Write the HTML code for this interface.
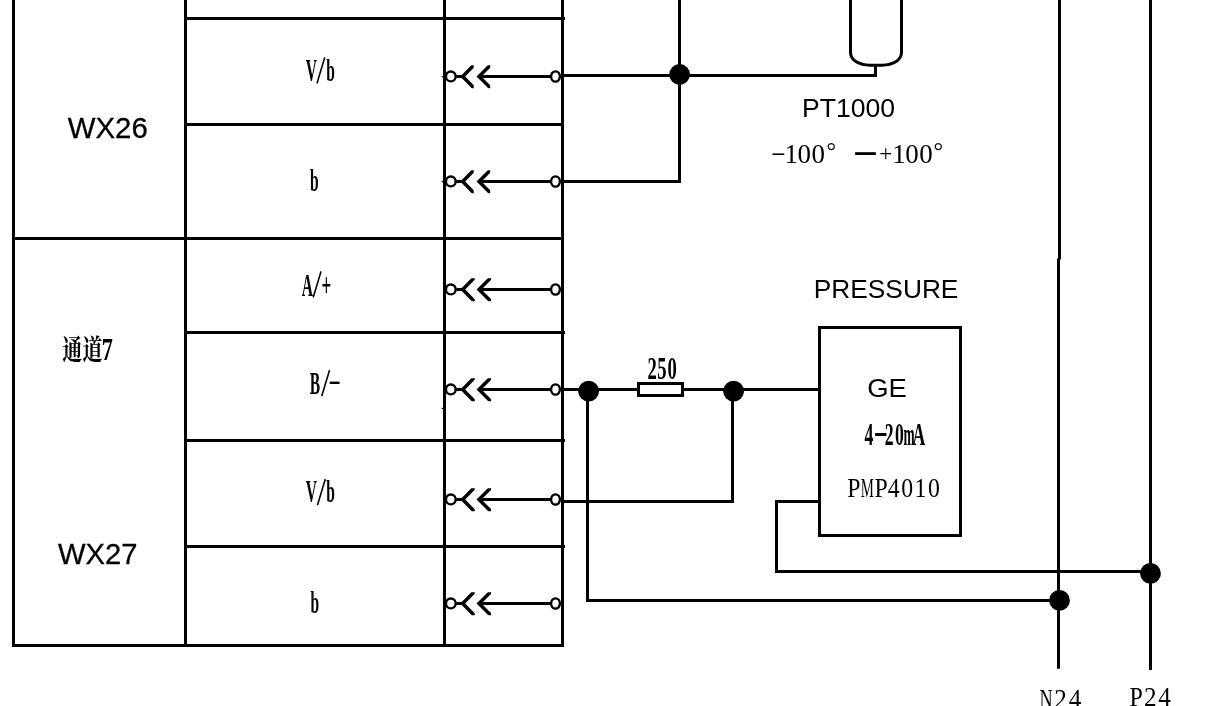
<!DOCTYPE html>
<html lang="zh"><head><meta charset="utf-8"><title>WX26 / WX27 wiring diagram</title>
<style>html,body{margin:0;padding:0;background:#fff}body{width:1218px;height:706px;overflow:hidden}svg{display:block;stroke-width:3}svg{filter:grayscale(1)}.l{stroke:#000;fill:none;stroke-linecap:butt;stroke-linejoin:miter}.sans{font-family:"Liberation Sans",sans-serif;fill:#000}.hv{stroke:#000;stroke-width:.3}.serif{font-family:"Liberation Serif",serif;fill:#000}.cn{font-family:"Liberation Serif","Noto Serif CJK SC",serif;fill:#000;font-weight:bold}.sb{font-family:"Liberation Serif",serif;font-weight:bold;fill:#000}</style></head><body>
<svg width="1218" height="706" viewBox="0 0 1218 706">
<rect x="0" y="0" width="1218" height="706" fill="#fff"/>
<g class="l">
<line x1="13.5" y1="-2" x2="13.5" y2="647"/>
<line x1="185.5" y1="-2" x2="185.5" y2="647"/>
<line x1="444.5" y1="-2" x2="444.5" y2="647"/>
<line x1="562.5" y1="-2" x2="562.5" y2="647"/>
<line x1="185.5" y1="18.5" x2="565" y2="18.5"/>
<line x1="185.5" y1="124.5" x2="564" y2="124.5"/>
<line x1="12" y1="238.5" x2="564" y2="238.5"/>
<line x1="185.5" y1="332.5" x2="565" y2="332.5"/>
<line x1="185.5" y1="440.5" x2="565" y2="440.5"/>
<line x1="185.5" y1="546.5" x2="565" y2="546.5"/>
<line x1="12" y1="645.5" x2="564" y2="645.5"/>
</g>
<rect x="441.6" y="407.8" width="1.6" height="1.2" fill="#000"/>
<defs><clipPath id="k1"><rect x="8" y="-11.3" width="14.9" height="23.1"/></clipPath><clipPath id="k2"><rect x="25" y="-11.3" width="14.4" height="23.1"/></clipPath><clipPath id="k3"><rect x="8" y="-11.3" width="16" height="23.1"/></clipPath><clipPath id="k4"><rect x="25" y="-11.3" width="15.3" height="23.1"/></clipPath></defs>
<g transform="translate(450.8,76.5)">
<path d="M-9.6,0.2 L-7,-1.2 V1.6 Z" fill="#000"/>
<ellipse class="l" cx="0" cy="-0.1" rx="4.85" ry="4.95" stroke-width="2.4" fill="#fff"/><line class="l" x1="5.5" y1="0" x2="13" y2="0"/><polyline class="l" clip-path="url(#k1)" points="25.6,-14 11.9,0 25.6,14" stroke-width="3.5"/><polyline class="l" clip-path="url(#k2)" points="42.2,-14 28.2,0 42.2,14" stroke-width="3.5"/><line class="l" x1="28.5" y1="0" x2="100" y2="0"/><ellipse class="l" cx="104.7" cy="0" rx="4.4" ry="5.15" stroke-width="2.35" fill="#fff"/></g>
<g transform="translate(450.8,181.5)">
<path d="M-9.6,0.2 L-7,-1.2 V1.6 Z" fill="#000"/>
<ellipse class="l" cx="0" cy="-0.1" rx="4.85" ry="4.95" stroke-width="2.4" fill="#fff"/><line class="l" x1="5.5" y1="0" x2="13" y2="0"/><polyline class="l" clip-path="url(#k1)" points="25.6,-14 11.9,0 25.6,14" stroke-width="3.5"/><polyline class="l" clip-path="url(#k2)" points="42.2,-14 28.2,0 42.2,14" stroke-width="3.5"/><line class="l" x1="28.5" y1="0" x2="100" y2="0"/><ellipse class="l" cx="104.7" cy="0" rx="4.4" ry="5.15" stroke-width="2.35" fill="#fff"/></g>
<g transform="translate(450.8,289.5)">
<ellipse class="l" cx="0" cy="-0.1" rx="4.85" ry="4.95" stroke-width="2.4" fill="#fff"/><line class="l" x1="5.5" y1="0" x2="13" y2="0"/><polyline class="l" clip-path="url(#k3)" points="25.6,-14 11.9,0 25.6,14" stroke-width="3.5"/><polyline class="l" clip-path="url(#k4)" points="42.2,-14 28.2,0 42.2,14" stroke-width="3.5"/><line class="l" x1="28.5" y1="0" x2="100" y2="0"/><ellipse class="l" cx="104.7" cy="0" rx="4.4" ry="5.15" stroke-width="2.35" fill="#fff"/></g>
<g transform="translate(450.8,389.5)">
<ellipse class="l" cx="0" cy="-0.1" rx="4.85" ry="4.95" stroke-width="2.4" fill="#fff"/><line class="l" x1="5.5" y1="0" x2="13" y2="0"/><polyline class="l" clip-path="url(#k3)" points="25.6,-14 11.9,0 25.6,14" stroke-width="3.5"/><polyline class="l" clip-path="url(#k4)" points="42.2,-14 28.2,0 42.2,14" stroke-width="3.5"/><line class="l" x1="28.5" y1="0" x2="100" y2="0"/><ellipse class="l" cx="104.7" cy="0" rx="4.4" ry="5.15" stroke-width="2.35" fill="#fff"/></g>
<g transform="translate(450.8,499.5)">
<ellipse class="l" cx="0" cy="-0.1" rx="4.85" ry="4.95" stroke-width="2.4" fill="#fff"/><line class="l" x1="5.5" y1="0" x2="13" y2="0"/><polyline class="l" clip-path="url(#k3)" points="25.6,-14 11.9,0 25.6,14" stroke-width="3.5"/><polyline class="l" clip-path="url(#k4)" points="42.2,-14 28.2,0 42.2,14" stroke-width="3.5"/><line class="l" x1="28.5" y1="0" x2="100" y2="0"/><ellipse class="l" cx="104.7" cy="0" rx="4.4" ry="5.15" stroke-width="2.35" fill="#fff"/></g>
<g transform="translate(450.8,603.5)">
<ellipse class="l" cx="0" cy="-0.1" rx="4.85" ry="4.95" stroke-width="2.4" fill="#fff"/><line class="l" x1="5.5" y1="0" x2="13" y2="0"/><polyline class="l" clip-path="url(#k3)" points="25.6,-14 11.9,0 25.6,14" stroke-width="3.5"/><polyline class="l" clip-path="url(#k4)" points="42.2,-14 28.2,0 42.2,14" stroke-width="3.5"/><line class="l" x1="28.5" y1="0" x2="100" y2="0"/><ellipse class="l" cx="104.7" cy="0" rx="4.4" ry="5.15" stroke-width="2.35" fill="#fff"/></g>
<g class="l">
<line x1="564" y1="75.5" x2="877" y2="75.5"/>
<line x1="875.5" y1="64" x2="875.5" y2="77"/>
<line x1="679.5" y1="-2" x2="679.5" y2="183"/>
<line x1="564" y1="181.5" x2="681" y2="181.5"/>
<path d="M850.5,-2 V52.5 C850.8,60.5 859,65.2 870,65.2 H882 C893,65.2 901.2,60.5 901.5,52.5 V-2"/>
<line x1="564" y1="389.5" x2="819.5" y2="389.5"/>
<rect x="638.5" y="383.5" width="44" height="12" fill="#fff"/>
<polyline points="587.5,391 587.5,600.5 1059.5,600.5"/>
<polyline points="732.5,391 732.5,501.5 564,501.5"/>
<rect x="819.5" y="327.5" width="141" height="208" />
<polyline points="819.5,501.5 776.5,501.5 776.5,571.5 1151,571.5"/>
<line x1="1059.5" y1="-2" x2="1059.5" y2="259.5"/>
<line x1="1058.5" y1="258.5" x2="1058.5" y2="668.8"/>
<line x1="1150.5" y1="-2" x2="1150.5" y2="670"/>
</g>
<circle cx="679.6" cy="74.5" r="10.4" fill="#000"/>
<circle cx="588.6" cy="391.2" r="10.4" fill="#000"/>
<circle cx="733.6" cy="391.2" r="10.4" fill="#000"/>
<circle cx="1059.5" cy="600.4" r="10.4" fill="#000"/>
<circle cx="1150.5" cy="573.4" r="10.4" fill="#000"/>
<text class="sans hv" x="67.8" y="137.8" font-size="30" textLength="80" lengthAdjust="spacingAndGlyphs">WX26</text>
<text class="sans hv" x="58" y="563.8" font-size="30" textLength="79.5" lengthAdjust="spacingAndGlyphs">WX27</text>
<text class="cn" transform="translate(62.3,359.6) scale(0.715,1)" font-size="28" x="0 28.4 55.3" y="0 0 0.4">通道<tspan font-size="31" >7</tspan></text>
<text class="sb" transform="translate(305.8,80.5) scale(0.5,1)" font-size="31" x="0.0 21.6 40.8" y="0.0 2.3 0.0" rotate="0 12 0">V<tspan font-size="43">/</tspan>b</text>
<text class="sb" transform="translate(310,190.5) scale(0.5,1)" font-size="31" x="0.0" y="0.0">b</text>
<text class="sb" transform="translate(301.8,295.5) scale(0.5,1)" font-size="31" x="0.0 22.0 39.4" y="0.0 1.3 0.0" rotate="0 12 0">A<tspan font-size="43">/</tspan><tspan font-size="34">+</tspan></text>
<text class="sb" transform="translate(309.8,394) scale(0.5,1)" font-size="31" x="0.0 23.0 37.0" y="0.0 1.4 -3.9" rotate="0 12 0">B<tspan font-size="43">/</tspan><tspan font-size="32" font-weight="normal" textLength="25.5" lengthAdjust="spacingAndGlyphs">-</tspan></text>
<text class="sb" transform="translate(305.8,502.3) scale(0.5,1)" font-size="31" x="0.0 22.2 40.8" y="0.0 2.3 0.0" rotate="0 12 0">V<tspan font-size="43">/</tspan>b</text>
<text class="sb" transform="translate(310.5,612.5) scale(0.5,1)" font-size="31" x="0.0" y="0.0">b</text>
<text class="sb" transform="translate(647.6,378.8) scale(0.6,1)" font-size="31" x="0.0 16.0 33.3" y="0.0 0.0 0.0">250</text>
<text class="sb" transform="translate(864.6,445) scale(0.57,1)" font-size="31" x="0.0 15.6 35.4 53.2 68.4 84.2" y="0.0 -1.0 0.0 0.0 0.0 0.0">4<tspan font-size="41" font-weight="normal" textLength="25.5" lengthAdjust="spacingAndGlyphs">-</tspan>20<tspan font-size="31" textLength="19.5" lengthAdjust="spacingAndGlyphs">m</tspan>A</text>
<text class="sans" x="802" y="116.8" font-size="25" textLength="93" lengthAdjust="spacingAndGlyphs">PT1000</text>
<text class="sans" x="813.8" y="298" font-size="25.7" textLength="144.6" lengthAdjust="spacingAndGlyphs">PRESSURE</text>
<text class="sans" x="867.2" y="397" font-size="25.7" textLength="39.7" lengthAdjust="spacingAndGlyphs">GE</text>
<text class="serif" transform="translate(847.3,497) scale(0.9,1)" font-size="26.4" x="0.0 14.9 30.2 45.0 59.9 74.8 89.6" y="0.0 0.0 0.0 0.0 0.0 0.0 0.0">P<tspan font-size="26.4" textLength="14.6" lengthAdjust="spacingAndGlyphs">M</tspan>P4010</text>
<text class="serif" transform="translate(1039.6,708.2) scale(0.9,1)" font-size="28" x="0.0 16.2 32.4" y="0.0 0.0 0.0"><tspan font-size="28" textLength="14.6" lengthAdjust="spacingAndGlyphs">N</tspan>24</text>
<text class="serif" transform="translate(1129.4,706.2) scale(0.9,1)" font-size="28" x="0.0 16.2 32.0" y="0.0 0.0 0.0"><tspan font-size="28" textLength="14.8" lengthAdjust="spacingAndGlyphs">P</tspan>24</text>
<text class="serif" font-size="27" x="770.7 784.4 797.6 811.6 826.6 842 856 879.3 892.2 905.2 919.2 933.5" y="158.6 163 163 163 158.5 163 158.2 161.3 163 163 163 158.5"><tspan font-size="20.6" textLength="15.2" lengthAdjust="spacingAndGlyphs">-</tspan>100<tspan font-size="24">°</tspan> <tspan font-size="19" font-weight="bold" stroke="#000" stroke-width="1.5">—</tspan><tspan font-size="23">+</tspan>100<tspan font-size="24">°</tspan></text>
</svg></body></html>
